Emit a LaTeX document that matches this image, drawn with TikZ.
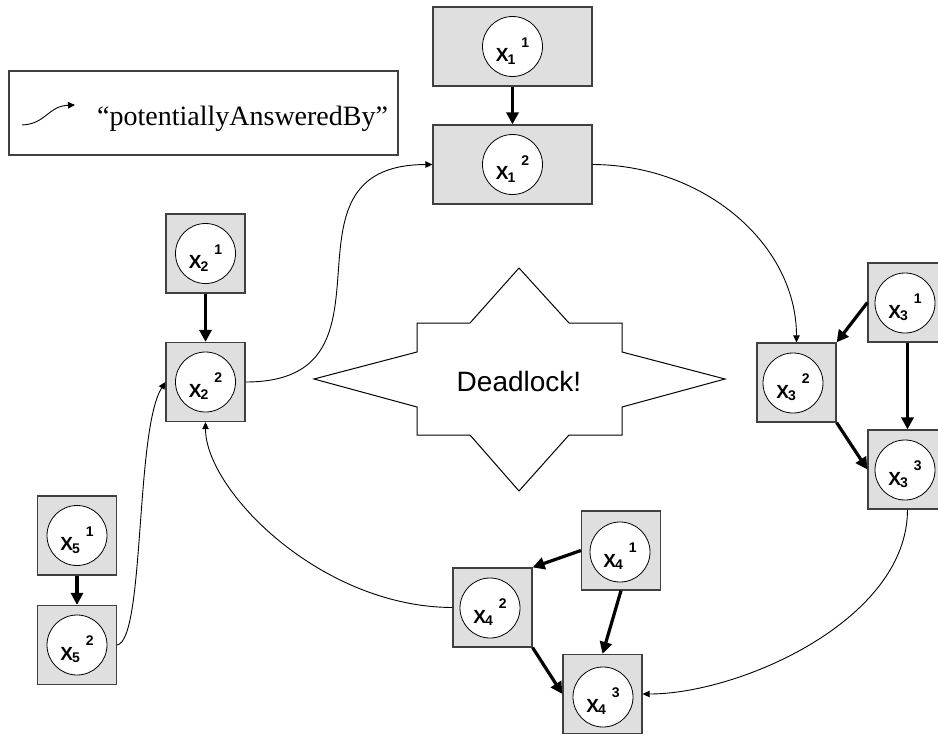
\documentclass[tikz,border=0pt]{standalone}
\usepackage{fontspec}
\setmainfont{Liberation Sans}
\newfontfamily\legserif{Liberation Serif}
\newfontfamily\lblfont{Liberation Sans Bold}
\usetikzlibrary{arrows.meta}
\newcommand{\xlab}[2]{X\hspace{-1pt}\raisebox{-2.5pt}{\fontsize{14}{14}\selectfont #1}\hspace{6pt}\raisebox{14.5pt}{\fontsize{14}{14}\selectfont #2}}
\tikzset{
  gbox/.style={draw=black!75, fill=gray!25, line width=1.2pt, minimum width=79pt, minimum height=79pt, inner sep=0pt},
  wbox/.style={gbox, minimum width=159pt},
  var/.style={circle, draw=black, fill=white, line width=0.8pt, minimum size=60pt, inner sep=0pt, text height=30pt, text depth=0pt, font=\lblfont\fontsize{19}{19}\selectfont},
  strong/.style={line width=3.2pt, -{Triangle[length=12pt,width=12pt]}},
  pab/.style={line width=0.9pt, -{Triangle[length=7pt,width=6.5pt]}},
}
\begin{document}
\begin{tikzpicture}[x=1pt,y=-1pt]
\clip (0,0) rectangle (938,736);
\fill[white] (0,0) rectangle (938,736);

% legend
\node[draw=black!75, line width=1.2pt, minimum width=389pt, minimum height=84pt, inner sep=0pt] (leg) at (203.5,113) {};
\node[anchor=base west, inner sep=0pt, font=\legserif\fontsize{28}{28}\selectfont] (legtxt) at (97,125) {“potentiallyAnsweredBy”};
\coordinate (lga) at (22,125);
\coordinate (lgb) at (75,105);
\draw[pab] (lga) .. controls (46,124) and (48,106) .. (lgb);

% deadlock star
\draw[line width=1pt, fill=white] (519,268) -- (569,323) -- (622,323) -- (622,352) -- (725,379) -- (622,407) -- (622,435) -- (569,435) -- (519,491) -- (470,435) -- (417,435) -- (417,407) -- (314,379) -- (417,352) -- (417,323) -- (470,323) -- cycle;
\node[font=\fontsize{28}{28}\selectfont] (dl) at (519,381) {Deadlock!};

% boxes
\node[wbox] (b11) at (512.5,46.5) {};
\node[wbox] (b12) at (512.5,164.5) {};
\node[gbox] (b21) at (205.5,253.5) {};
\node[gbox] (b22) at (205.5,382) {};
\node[gbox] (b31) at (907.5,302.5) {};
\node[gbox] (b32) at (796.5,382.5) {};
\node[gbox] (b33) at (907.5,469.5) {};
\node[gbox] (b41) at (621,550.5) {};
\node[gbox] (b42) at (492.5,607.5) {};
\node[gbox] (b43) at (602.5,694) {};
\node[gbox] (b51) at (77,535.5) {};
\node[gbox] (b52) at (77,645) {};

% variables
\node[var] (c11) at (b11.center) {\xlab{1}{1}};
\node[var] (c12) at (b12.center) {\xlab{1}{2}};
\node[var] (c21) at (b21.center) {\xlab{2}{1}};
\node[var] (c22) at (b22.center) {\xlab{2}{2}};
\node[var] (c31) at (905,303) {\xlab{3}{1}};
\node[var] (c32) at (793,383) {\xlab{3}{2}};
\node[var] (c33) at (905,470) {\xlab{3}{3}};
\node[var] (c41) at (620,552) {\xlab{4}{1}};
\node[var] (c42) at (490,608) {\xlab{4}{2}};
\node[var] (c43) at (603,697) {\xlab{4}{3}};
\node[var] (c51) at (b51.center) {\xlab{5}{1}};
\node[var] (c52) at (b52.center) {\xlab{5}{2}};

% strong arrows
\draw[strong] (b11.south) -- (b12.north);
\draw[strong] (b21.south) -- (b22.north);
\draw[strong] (b31.west) -- (b32.north east);
\draw[strong] (b31.south) -- (b33.north);
\draw[strong] (b32.south east) -- (b33.west);
\draw[strong] (b41.west) -- (b42.north east);
\draw[strong] (b41.south) -- (b43.north);
\draw[strong] (b42.south east) -- (b43.west);
\draw[strong] (b51.south) -- (b52.north);

% potentiallyAnsweredBy
\draw[pab] (b22.east) .. controls (413,382) and (265,165) .. (b12.west);
\draw[pab] (b12.east) .. controls (705,165) and (796.5,245) .. (b32.north);
\draw[pab] (b33.south) .. controls (907.5,620) and (740,694) .. (b43.east);
\draw[pab] (b42.west) .. controls (320,607) and (205.5,490) .. (b22.south);
\draw[pab] (b52.east) .. controls (145,640) and (135,430) .. (b22.west);
\end{tikzpicture}
\end{document}
